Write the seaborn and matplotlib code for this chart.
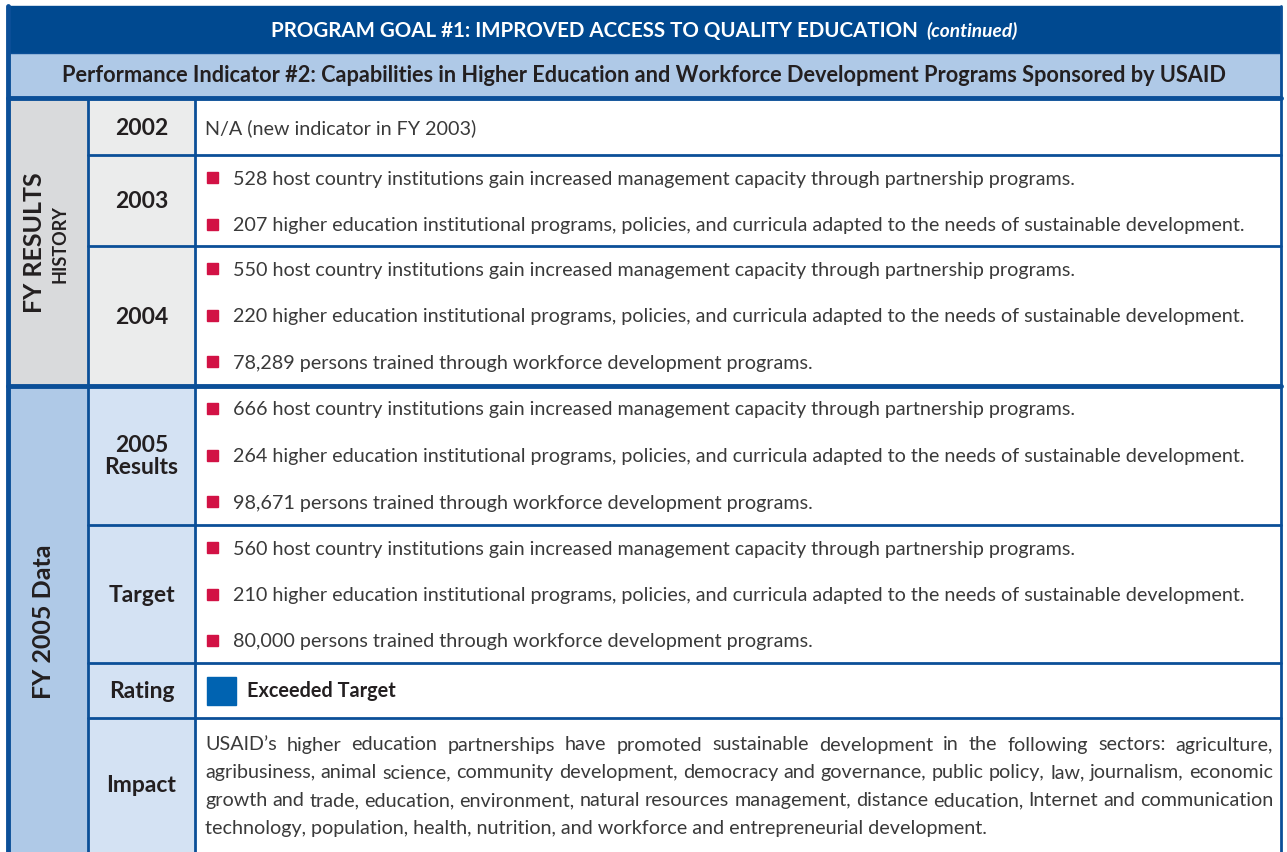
#recreating the USAID performance indicator table as a figure
import matplotlib
matplotlib.use("Agg")
import matplotlib.pyplot as plt
from matplotlib.patches import Rectangle
import seaborn as sns

# table text
title = "PROGRAM GOAL #1: IMPROVED ACCESS TO QUALITY EDUCATION"
title_note = "(continued)"
subtitle = ("Performance Indicator #2: Capabilities in Higher Education and Workforce "
            "Development Programs Sponsored by USAID")

group_labels = ["FY RESULTS", "FY 2005 Data"]
group_sublabels = ["HISTORY", ""]
row_labels = ["2002", "2003", "2004", "2005\nResults", "Target", "Rating", "Impact"]
row_group = [0, 0, 0, 1, 1, 1, 1]

inst = " host country institutions gain increased management capacity through partnership programs."
prog = (" higher education institutional programs, policies, and curricula adapted to the needs "
        "of sustainable development.")
pers = " persons trained through workforce development programs."

institutions = ["528", "550", "666", "560"]
programs = ["207", "220", "264", "210"]
persons = ["78,289", "98,671", "80,000"]

rows_2002 = ["N/A (new indicator in FY 2003)"]
rows_2003 = [institutions[0] + inst, programs[0] + prog]
rows_2004 = [institutions[1] + inst, programs[1] + prog, persons[0] + pers]
rows_2005 = [institutions[2] + inst, programs[2] + prog, persons[1] + pers]
rows_target = [institutions[3] + inst, programs[3] + prog, persons[2] + pers]
rating = "Exceeded Target"
impact_lines = [
    "USAID\u2019s higher education partnerships have promoted sustainable development in the following sectors: agriculture,",
    "agribusiness, animal science, community development, democracy and governance, public policy, law, journalism, economic",
    "growth and trade, education, environment, natural resources management, distance education, Internet and communication",
    "technology, population, health, nutrition, and workforce and entrepreneurial development.",
]

# colours
navy = "#004990"
line_c = "#0b4f98"
light_blue = "#afc9e7"
pale_blue = "#d4e2f3"
grey1 = "#d9dadc"
grey2 = "#ebecec"
bullet_red = "#d21245"
rating_blue = "#0063b1"
ink = "#231f20"
body_ink = "#3a3a3a"

sns.set_style("white")
plt.rcParams["font.family"] = ["Lato", "DejaVu Sans"]

fig = plt.figure(figsize=(12.87, 8.53), dpi=100)
ax = fig.add_axes([0, 0, 1, 1])
ax.set_xlim(0, 1287)
ax.set_ylim(853, 0)
ax.axis("off")
renderer = fig.canvas.get_renderer()

def width_of(t):
    return t.get_window_extent(renderer).width

body_fs = 14.25
label_fs = 16.5

# layout in pixels
x0, x1, x2, x3 = 8, 88, 195, 1281
edges = [100, 156, 247, 387, 526, 664, 719, 858]
group_span = [(100, 387), (387, 858)]

# header rows
ax.add_patch(Rectangle((x0, 7), x3 - x0, 47, color=navy, zorder=1))
ax.add_patch(Rectangle((x0, 54), x3 - x0, 44, facecolor=light_blue,
                       edgecolor=line_c, lw=1, zorder=1))
t1 = ax.text(0, 31, title, color="white", fontsize=14.8, fontweight="bold",
             va="center", ha="left")
t2 = ax.text(0, 31, title_note, color="white", fontsize=13.8, fontweight="bold",
             style="italic", va="center", ha="left")
w1, w2 = width_of(t1), width_of(t2)
start = (x0 + x3) / 2 - (w1 + 9 + w2) / 2
t1.set_x(start)
t2.set_x(start + w1 + 9)
ax.text((x0 + x3) / 2, 75, subtitle, color=ink, fontsize=15.7, fontweight="bold",
        va="center", ha="center")

# group column
for g, (top, bot) in enumerate(group_span):
    fill = grey1 if g == 0 else light_blue
    ax.add_patch(Rectangle((x0, top), x1 - x0, bot - top, color=fill, zorder=1))

ax.text(35, 243, group_labels[0], rotation=90, fontsize=18, fontweight="bold",
        color=ink, va="center", ha="center")
ax.text(60, 244, group_sublabels[0], rotation=90, fontsize=13, fontweight="bold",
        color=ink, va="center", ha="center")
ax.text(44, 622, group_labels[1], rotation=90, fontsize=18, fontweight="bold",
        color=ink, va="center", ha="center")

# row labels and content
contents = [rows_2002, rows_2003, rows_2004, rows_2005, rows_target, None, None]
for i, lab in enumerate(row_labels):
    top, bot = edges[i], edges[i + 1]
    fill = grey2 if row_group[i] == 0 else pale_blue
    ax.add_patch(Rectangle((x1, top), x2 - x1, bot - top, color=fill, zorder=1))
    yc = (top + min(bot, 853)) / 2 if lab != "Impact" else 786
    ax.text((x1 + x2) / 2, yc, lab, fontsize=label_fs, fontweight="bold", color=ink,
            va="center", ha="center", linespacing=1.1)
    lines = contents[i]
    if lines is None:
        continue
    if len(lines) == 1:
        ax.text(205, yc, lines[0], fontsize=body_fs, color=body_ink, va="center", ha="left")
        continue
    for k, s in enumerate(lines):
        y = top + 23 + k * 46.5
        ax.add_patch(Rectangle((207, y - 6), 11, 11, color=bullet_red, zorder=3))
        ax.text(233, y, s, fontsize=body_fs, color=body_ink, va="center", ha="left")

# rating
ax.add_patch(Rectangle((207, 678), 29, 28, color=rating_blue, zorder=3))
ax.text(247, 691, rating, fontsize=14.3, fontweight="bold", color=ink,
        va="center", ha="left")

# impact paragraph, justified
left, right = 205, 1273
for k, line in enumerate(impact_lines):
    y = 745 + k * 27.7
    words = line.split(" ")
    if k == len(impact_lines) - 1:
        ax.text(left, y, line, fontsize=body_fs, color=body_ink, va="center", ha="left")
        continue
    texts = [ax.text(0, y, w, fontsize=body_fs, color=body_ink, va="center", ha="left")
             for w in words]
    widths = [width_of(t) for t in texts]
    gap = (right - left - sum(widths)) / (len(words) - 1)
    x = left
    for t, w in zip(texts, widths):
        t.set_x(x)
        x += w + gap

# grid lines
lw_thin, lw_thick = 2, 3.5
ax.plot([x0, x0], [7, 853], color=line_c, lw=lw_thick, zorder=4)
ax.plot([x3, x3], [7, 853], color=line_c, lw=lw_thin, zorder=4)
ax.plot([x1, x1], [99, 853], color=line_c, lw=lw_thin, zorder=4)
ax.plot([x2, x2], [99, 853], color=line_c, lw=lw_thin, zorder=4)
ax.plot([x0, x3], [99, 99], color=line_c, lw=lw_thick, zorder=4)
ax.plot([x0, x3], [387, 387], color=line_c, lw=lw_thick, zorder=4)
for i in [1, 2, 4, 5, 6]:
    ax.plot([x1, x3], [edges[i], edges[i]], color=line_c, lw=lw_thin, zorder=4)

fig.savefig("out.png", dpi=100)
